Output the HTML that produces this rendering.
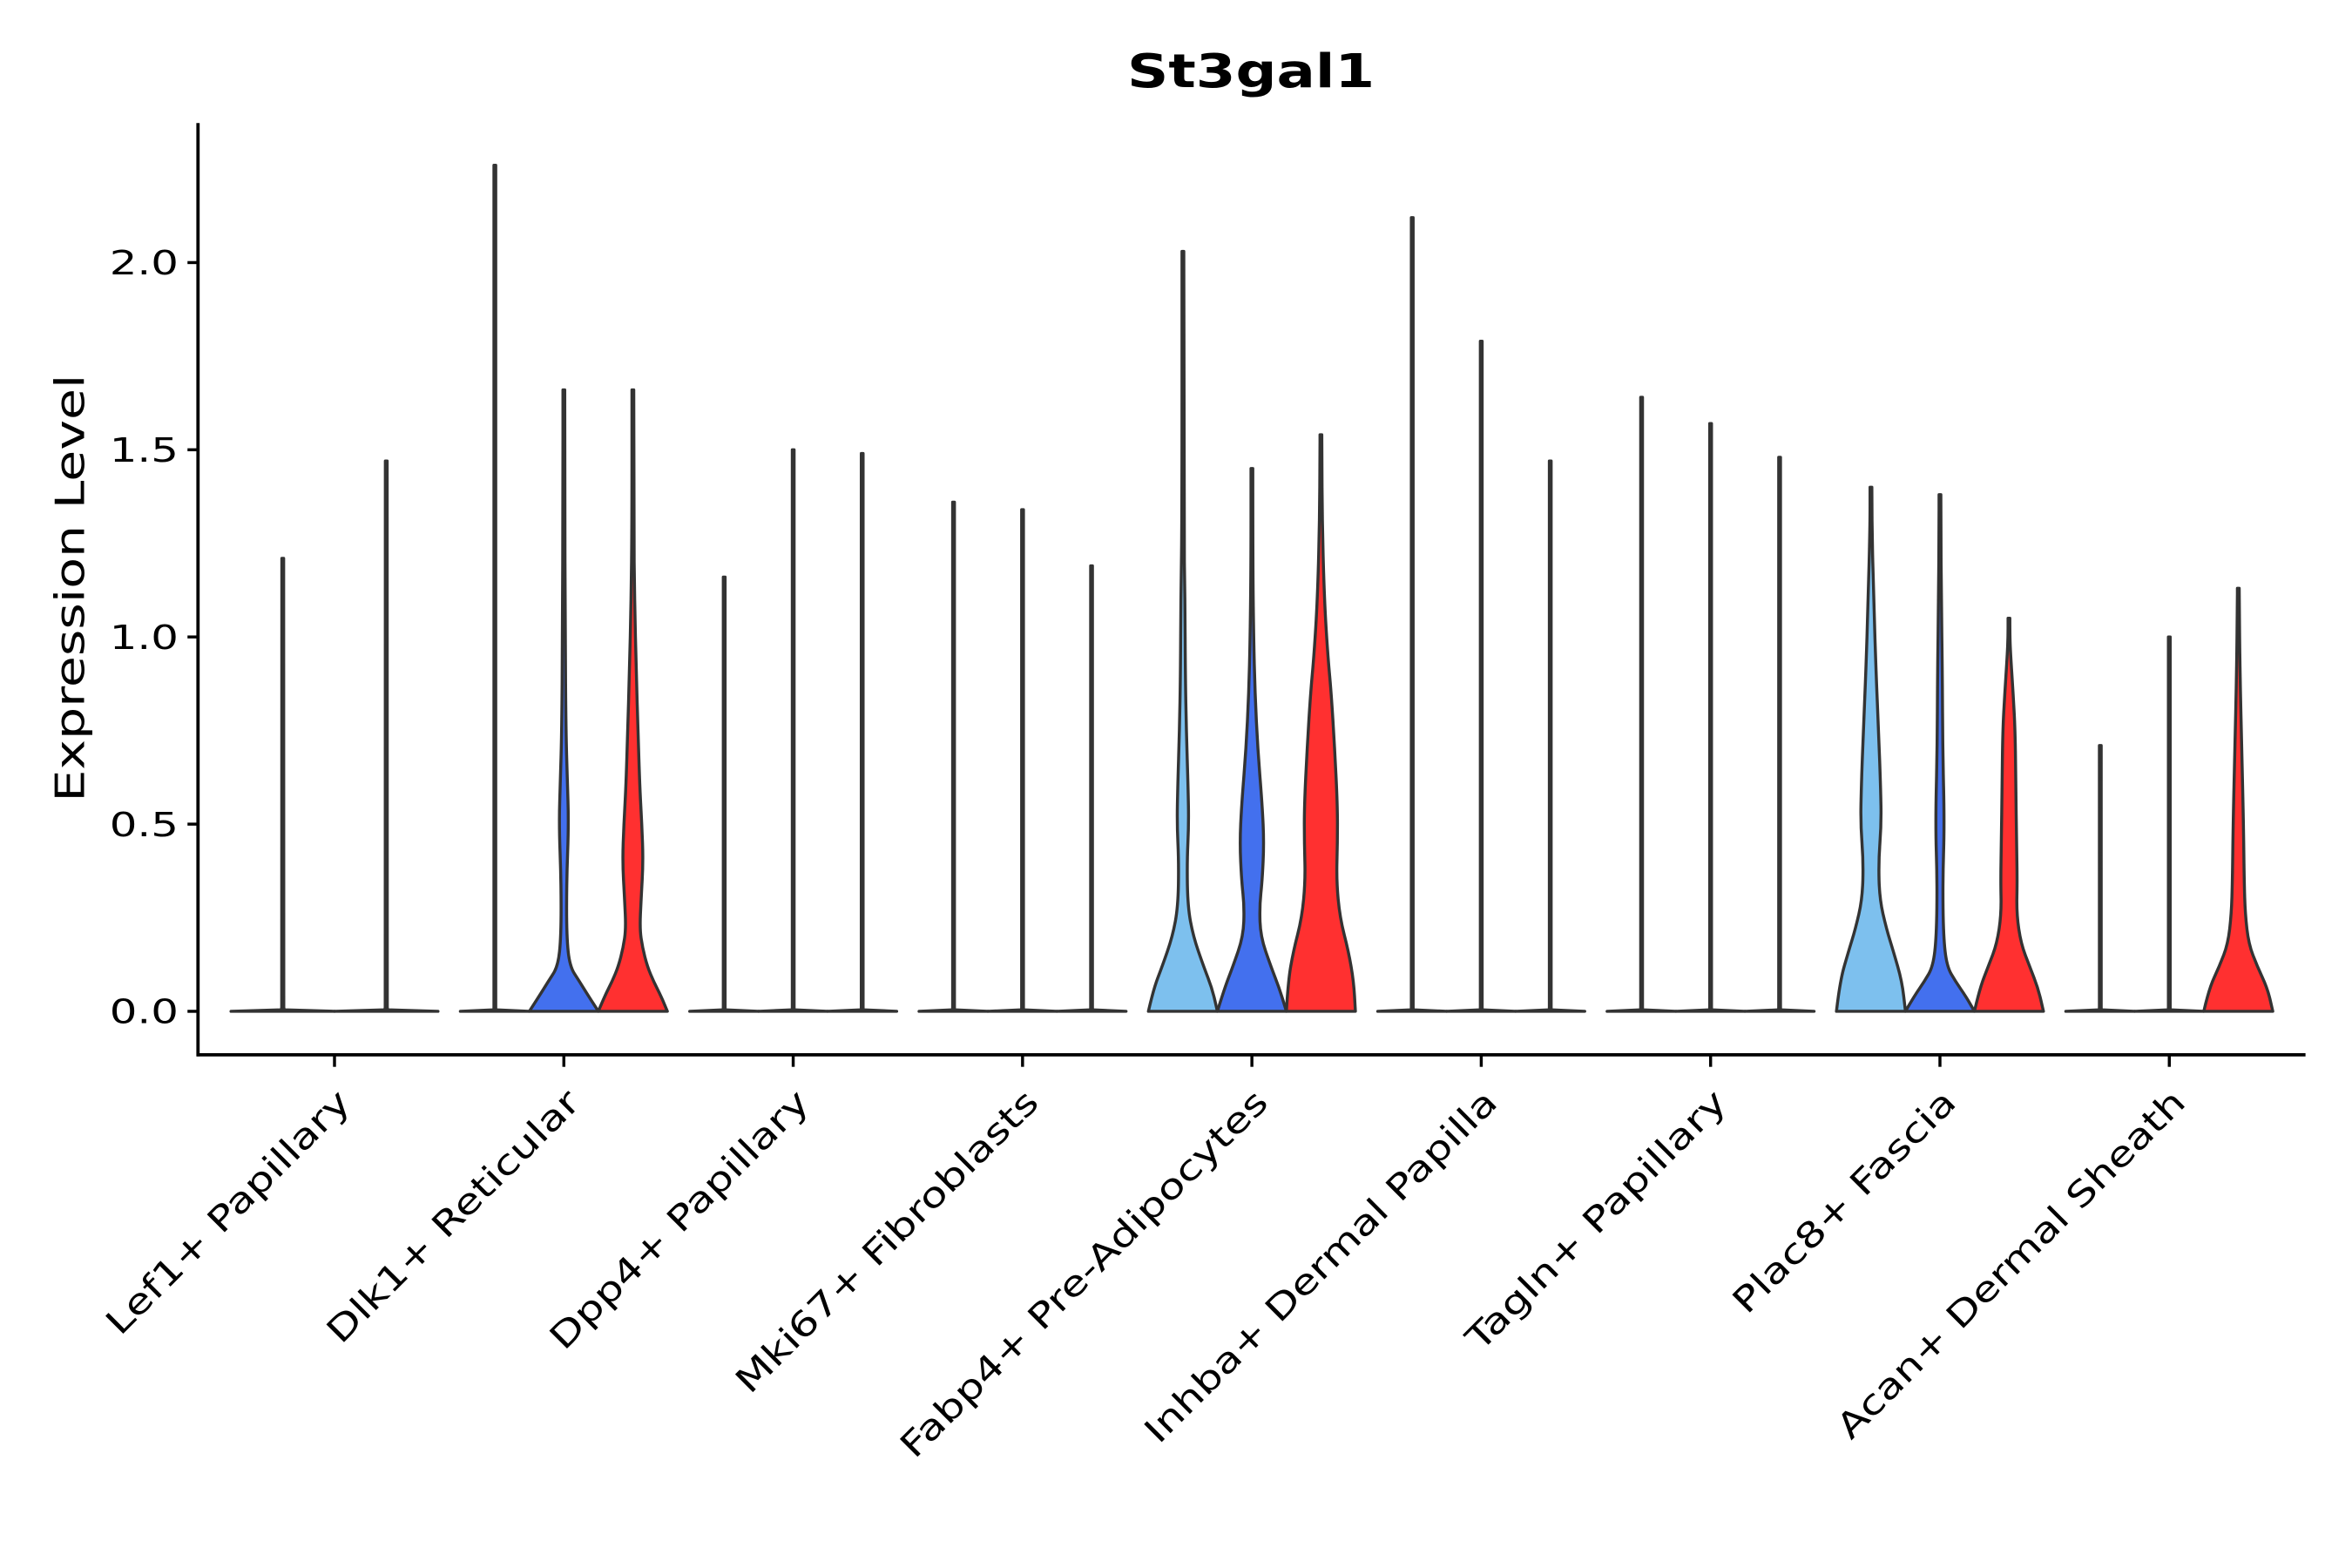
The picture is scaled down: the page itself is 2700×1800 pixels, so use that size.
<!DOCTYPE html>
<html><head><meta charset="utf-8"><style>
html,body{margin:0;padding:0;background:#fff;}
svg{display:block;}
text{font-family:"DejaVu Sans","Liberation Sans",sans-serif;fill:#000;}
</style></head><body>
<svg id="chart" width="2700" height="1800" viewBox="0 0 1568 1045" preserveAspectRatio="none" xmlns="http://www.w3.org/2000/svg">
<text x="834" y="58" font-size="31" font-weight="bold" text-anchor="middle" textLength="165" lengthAdjust="spacingAndGlyphs">St3gal1</text>
<text transform="translate(56,392) rotate(-90)" font-size="27" text-anchor="middle" textLength="285" lengthAdjust="spacingAndGlyphs">Expression Level</text>
<g id="plot"></g>
</svg>
<script>
const categories = ["Lef1+ Papillary","Dlk1+ Reticular","Dpp4+ Papillary","Mki67+ Fibroblasts","Fabp4+ Pre-Adipocytes","Inhba+ Dermal Papilla","Tagln+ Papillary","Plac8+ Fascia","Acan+ Dermal Sheath"];
const seriesColors = ["#7DC0EE","#4370EE","#FF3030"];
const yTicks = [0,0.5,1.0,1.5,2.0];
const yTickLabels = ["0.0","0.5","1.0","1.5","2.0"];
const labelLengths = [219,227,233,274,335,321,234,199,317];
// series present per category
const seriesPerCat = [[0,2],[0,1,2],[0,1,2],[0,1,2],[0,1,2],[0,1,2],[0,1,2],[0,1,2],[0,1,2]];
// max expression per violin
const maxVals = [[1.21,1.47],[2.26,1.66,1.66],[1.16,1.50,1.49],[1.36,1.34,1.19],[2.03,1.45,1.54],[2.12,1.79,1.47],[1.64,1.57,1.48],[1.40,1.38,1.05],[0.71,1.00,1.13]];
// density profiles: levels (expression) and relative half-widths
const densLevels = {
  "1-1":[0,0.04,0.08,0.12,0.2,0.35,0.5,0.62,0.75,1.0,1.4],
  "1-2":[0,0.04,0.08,0.12,0.17,0.22,0.3,0.4,0.5,0.6,0.75,0.9,1.1,1.3],
  "4-0":[0,0.06,0.12,0.2,0.28,0.4,0.5,0.6,0.75,0.9,1.1,1.3],
  "4-1":[0,0.06,0.12,0.2,0.28,0.35,0.45,0.55,0.7,0.85,1.0,1.2],
  "4-2":[0,0.08,0.16,0.25,0.35,0.45,0.55,0.7,0.85,0.95,1.1,1.3,1.5],
  "7-0":[0,0.08,0.16,0.22,0.3,0.4,0.5,0.6,0.75,0.9,1.1,1.3],
  "7-1":[0,0.04,0.08,0.12,0.2,0.35,0.5,0.7,0.9,1.1,1.3],
  "7-2":[0,0.06,0.12,0.18,0.26,0.35,0.45,0.6,0.75,0.85,0.95,1.0],
  "8-2":[0,0.06,0.12,0.18,0.26,0.35,0.5,0.7,0.9,1.1]
};
const densWidths = {
  "1-1":[1,0.72,0.45,0.17,0.08,0.08,0.14,0.1,0.06,0.04,0.02],
  "1-2":[1,0.82,0.6,0.42,0.28,0.2,0.24,0.3,0.26,0.2,0.15,0.1,0.05,0.02],
  "4-0":[1,0.85,0.6,0.3,0.14,0.12,0.17,0.15,0.1,0.07,0.06,0.02],
  "4-1":[1,0.8,0.55,0.25,0.22,0.3,0.35,0.3,0.17,0.09,0.05,0.02],
  "4-2":[1,0.95,0.8,0.55,0.45,0.48,0.48,0.4,0.3,0.2,0.1,0.04,0.01],
  "7-0":[1,0.9,0.65,0.45,0.25,0.22,0.3,0.28,0.22,0.15,0.08,0.02],
  "7-1":[1,0.75,0.45,0.2,0.1,0.08,0.13,0.08,0.07,0.04,0.01],
  "7-2":[1,0.85,0.6,0.35,0.22,0.24,0.22,0.2,0.18,0.12,0.05,0.02],
  "8-2":[1,0.85,0.55,0.3,0.2,0.17,0.15,0.1,0.05,0.01]
};
const outlierDots = [0.68,0.66,0.62,0.54,0.42,0.40,0.38];

const NS="http://www.w3.org/2000/svg";
const plot=document.getElementById('plot');
const X0=132, X1=1537, Y0=674, UNIT=249.5, AXY=703, AXTOP=82;
const catStart=223, catStep=152.9;
function yS(v){return Y0 - v*UNIT;}
function xCat(i){return catStart + i*catStep;}
function mk(tag,attrs){const e=document.createElementNS(NS,tag);for(const k in attrs)e.setAttribute(k,attrs[k]);return e;}
function smoothSide(pts){
  let d="";
  for(let k=1;k<pts.length-1;k++){
    const mx=(pts[k][0]+pts[k+1][0])/2, my=(pts[k][1]+pts[k+1][1])/2;
    d+=" Q"+pts[k][0]+","+pts[k][1]+" "+mx+","+my;
  }
  d+=" L"+pts[pts.length-1][0]+","+pts[pts.length-1][1];
  return d;
}

categories.forEach((c,i)=>{
  const ser=seriesPerCat[i];
  const groupW=138, n=ser.length, w=groupW/n, half=w/2;
  ser.forEach((s,j)=>{
    const cx=xCat(i)-groupW/2+w*(j+0.5);
    const key=i+"-"+s;
    const mv=maxVals[i][j];
    const shaped=!!densLevels[key];
    let lv, wd;
    if(shaped){lv=densLevels[key];wd=densWidths[key];}
    else{lv=[0,0.004,0.01];wd=[1,0.03,0.02];}
    const L=[],W=[];
    for(let k=0;k<lv.length;k++){ if(lv[k]<mv){L.push(lv[k]);W.push(wd[k]);} }
    L.push(mv);W.push(0.01);
    const left=L.map((v,k)=>[cx-Math.max(W[k]*half,0.6),yS(v)]);
    const right=L.map((v,k)=>[cx+Math.max(W[k]*half,0.6),yS(v)]).reverse();
    let d="M"+left[0][0]+","+left[0][1];
    d+= shaped ? smoothSide(left) : left.slice(1).map(p=>" L"+p[0]+","+p[1]).join("");
    d+=" L"+right[0][0]+","+right[0][1];
    d+= shaped ? smoothSide(right) : right.slice(1).map(p=>" L"+p[0]+","+p[1]).join("");
    d+=" Z";
    const p=mk('path',{d:d,fill:shaped?seriesColors[s]:'#fff',stroke:'#333','stroke-width':2,'stroke-linejoin':'round'});
    
    
    plot.appendChild(p);
    if(i===8 && s===0){
      outlierDots.forEach(v=>{
        const dt=mk('circle',{cx:cx,cy:yS(v),r:1.3,fill:'#333'});
        
        
        plot.appendChild(dt);
      });
    }
  });
});

const ya=mk('line',{x1:X0,y1:AXTOP,x2:X0,y2:AXY+1,stroke:'#000','stroke-width':2.2});


plot.appendChild(ya);
const xa=mk('line',{x1:X0-1,y1:AXY,x2:X1,y2:AXY,stroke:'#000','stroke-width':2.2});


plot.appendChild(xa);

yTicks.forEach((v,k)=>{
  const t=mk('line',{x1:X0-7,y1:yS(v),x2:X0,y2:yS(v),stroke:'#000','stroke-width':2});
  
  
  plot.appendChild(t);
  const l=mk('text',{x:X0-13,y:yS(v)+8,'font-size':22,'text-anchor':'end',textLength:46,lengthAdjust:'spacingAndGlyphs'});
  l.textContent=yTickLabels[k];
  
  
  plot.appendChild(l);
});

categories.forEach((c,i)=>{
  const x=xCat(i);
  const t=mk('line',{x1:x,y1:AXY,x2:x,y2:AXY+8,stroke:'#000','stroke-width':2});
  
  
  plot.appendChild(t);
  const l=mk('text',{transform:'translate('+(x+12)+',736) rotate(-45)','font-size':23,'text-anchor':'end',textLength:labelLengths[i],lengthAdjust:'spacingAndGlyphs'});
  l.textContent=c;
  
  
  plot.appendChild(l);
});
</script>
</body></html>
